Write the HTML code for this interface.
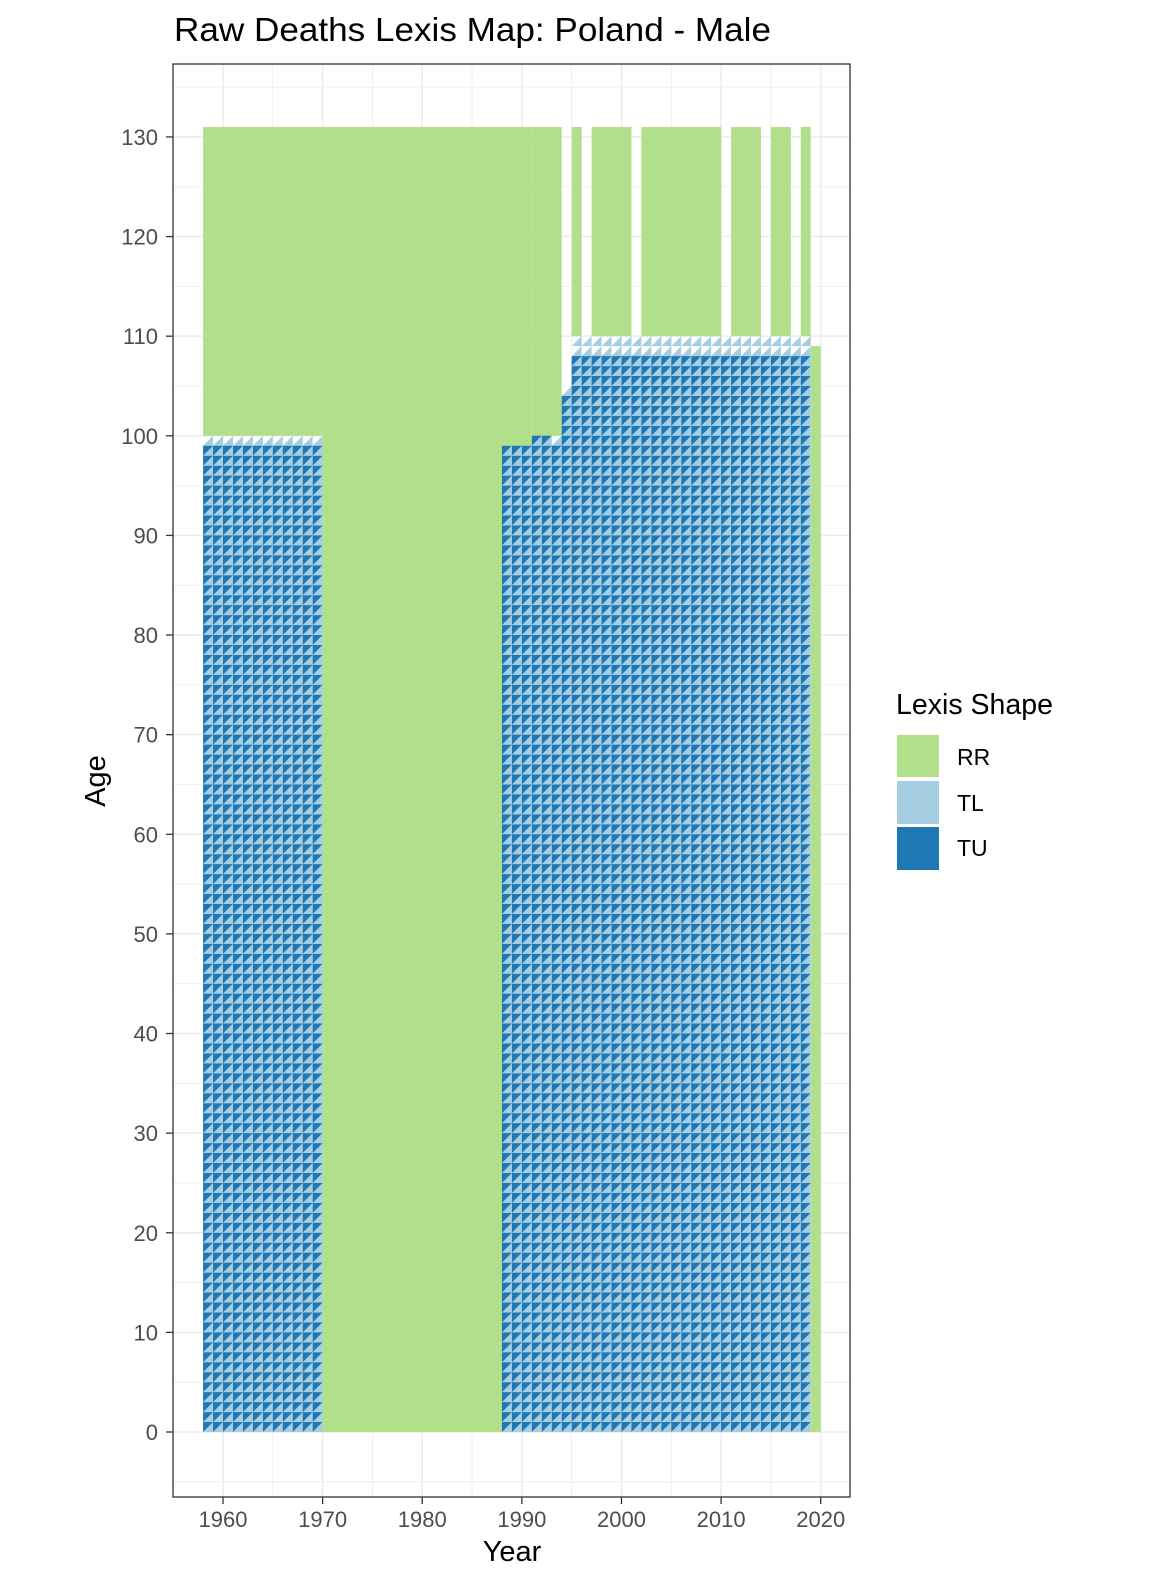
<!DOCTYPE html>
<html><head><meta charset="utf-8"><style>
body{margin:0;background:#fff;}
svg{display:block;font-family:"Liberation Sans",Arial,sans-serif;}
</style></head><body>
<svg id="chart" width="1152" height="1584" viewBox="0 0 1152 1584" xmlns="http://www.w3.org/2000/svg">
<text x="174" y="41" font-size="33" textLength="597" lengthAdjust="spacingAndGlyphs" fill="#000">Raw Deaths Lexis Map: Poland - Male</text>
<rect x="173" y="64" width="677" height="1433" fill="#fff"/>
<g id="grid"></g>
<g id="marks"></g>
<rect x="173" y="64" width="677" height="1433" fill="none" stroke="#333" stroke-width="1.3"/>
<g id="axes"></g>
<text x="512" y="1561" font-size="29" text-anchor="middle">Year</text>
<text transform="translate(105,781) rotate(-90)" font-size="29" text-anchor="middle">Age</text>
<g>
<text x="896" y="714" font-size="29" textLength="157" lengthAdjust="spacingAndGlyphs">Lexis Shape</text>
<rect x="897" y="735" width="42" height="42" fill="#b2df8a"/>
<text x="957" y="765" font-size="23">RR</text>
<rect x="897" y="781" width="42" height="43" fill="#a6cee3"/>
<text x="957" y="811" font-size="23">TL</text>
<rect x="897" y="827" width="42" height="43" fill="#1f78b4"/>
<text x="957" y="856" font-size="23">TU</text>
</g>
</svg>
<script>
// RR blocks: [yearStart, yearEnd, ageStart, ageEnd]
const rrBlocks = [
 [1958,1970,100,131],[1970,1988,0,131],[1988,1991,99,131],[1991,1994,100,131],
 [1995,1996,110,131],[1997,2001,110,131],[2002,2010,110,131],[2011,2014,110,131],
 [2015,2017,110,131],[2018,2019,110,131],[2019,2020,0,109]
];
// triangle blocks: [yearStart, yearEnd, TU top age, TL top age]
const triBlocks = [
 [1958,1970,99,100],[1988,1991,99,99],[1991,1993,100,100],[1993,1994,99,100],
 [1994,1995,104,105],[1995,2019,108,110]
];
const xTicks = [1960,1970,1980,1990,2000,2010,2020];
const yTicks = [0,10,20,30,40,50,60,70,80,90,100,110,120,130];

const NS="http://www.w3.org/2000/svg";
const U = 9.962;
const X = y => 223 + (y-1960)*U;
const Y = a => 1432 - a*U;
function mk(tag, attrs, parent){const e=document.createElementNS(NS,tag);for(const k in attrs)e.setAttribute(k,attrs[k]);parent.appendChild(e);return e;}
const grid=document.getElementById('grid'), marks=document.getElementById('marks'), axes=document.getElementById('axes');
for(let y=1955;y<=2025;y+=5){const x=X(y);if(x<173||x>850)continue;
 const l=mk('line',{x1:x,x2:x,y1:64,y2:1497,stroke:'#ebebeb','stroke-width':y%10===0?1.5:0.8},grid);
 
 }
for(let a=-5;a<=135;a+=5){const y=Y(a);if(y<64||y>1497)continue;
 const l=mk('line',{x1:173,x2:850,y1:y,y2:y,stroke:'#ebebeb','stroke-width':a%10===0?1.5:0.8},grid);
 
 }
rrBlocks.forEach(b=>{
 const r=mk('rect',{x:X(b[0]),y:Y(b[3]),width:X(b[1])-X(b[0]),height:Y(b[2])-Y(b[3]),fill:'#b2df8a'},marks);
 
 });
let tl='',tu='';
triBlocks.forEach(b=>{
 for(let yr=b[0];yr<b[1];yr++){
  const x0=X(yr),x1=X(yr+1);
  for(let a=0;a<b[3];a++){
   const y0=Y(a),y1=Y(a+1);
   tl+=`M${x0.toFixed(2)},${y0.toFixed(2)}L${x1.toFixed(2)},${y0.toFixed(2)}L${x1.toFixed(2)},${y1.toFixed(2)}Z`;
   if(a<b[2]) tu+=`M${x0.toFixed(2)},${y0.toFixed(2)}L${x0.toFixed(2)},${y1.toFixed(2)}L${x1.toFixed(2)},${y1.toFixed(2)}Z`;
  }
 }
});
const p1=mk('path',{d:tl,fill:'#a6cee3'},marks);


const p2=mk('path',{d:tu,fill:'#1f78b4'},marks);


xTicks.forEach(t=>{const x=X(t);
 const l=mk('line',{x1:x,x2:x,y1:1497,y2:1504,stroke:'#333','stroke-width':1.3},axes);
 
 
 const tx=mk('text',{x:x,y:1527,'font-size':22,fill:'#4d4d4d','text-anchor':'middle'},axes);tx.textContent=t;
 
 });
yTicks.forEach(t=>{const y=Y(t);
 const l=mk('line',{x1:166,x2:173,y1:y,y2:y,stroke:'#333','stroke-width':1.3},axes);
 
 
 const tx=mk('text',{x:158,y:y+8,'font-size':22,fill:'#4d4d4d','text-anchor':'end'},axes);tx.textContent=t;
 
 });
</script>
</body></html>
